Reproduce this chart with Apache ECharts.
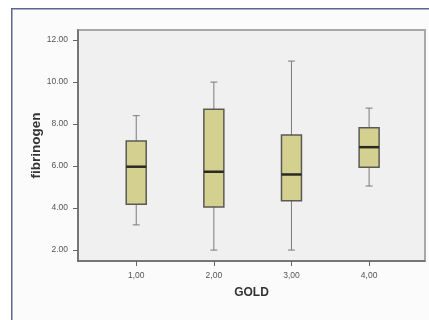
<!DOCTYPE html>
<html>
<head>
<meta charset="utf-8">
<script src="https://cdn.jsdelivr.net/npm/echarts@6/dist/echarts.min.js"></script>
<style>
  html, body { margin: 0; padding: 0; background: #fff; }
  #chart { width: 429px; height: 320px; }
</style>
</head>
<body>
<div id="chart"></div>
<script>
// GOLD groups and fibrinogen box values
var goldGroups = [1, 2, 3, 4];
var minVals    = [3.20, 2.00, 2.00, 5.05];
var q1Vals     = [4.18, 4.05, 4.35, 5.94];
var medianVals = [5.97, 5.73, 5.60, 6.90];
var q3Vals     = [7.20, 8.71, 7.48, 7.82];
var maxVals    = [8.40, 10.00, 11.00, 8.76];
var yTicks     = [2, 4, 6, 8, 10, 12];

var boxData = goldGroups.map(function (g, i) {
    return [g, minVals[i], q1Vals[i], medianVals[i], q3Vals[i], maxVals[i]];
});

var chart = echarts.init(document.getElementById('chart'));

// one box per group: whiskers with short caps, box, thick median
function renderBox(params, api) {
    var x = api.value(0);
    var lo = api.coord([x, api.value(1)]);
    var q1 = api.coord([x, api.value(2)]);
    var md = api.coord([x, api.value(3)]);
    var q3 = api.coord([x, api.value(4)]);
    var hi = api.coord([x, api.value(5)]);
    var cx = lo[0];
    var bw = 20, cap = 7;
    var whisker = { stroke: '#7a7a7a', lineWidth: 1 };
    return {
        type: 'group',
        children: [
            { type: 'line', shape: { x1: cx, y1: hi[1], x2: cx, y2: q3[1] }, style: whisker },
            { type: 'line', shape: { x1: cx, y1: q1[1], x2: cx, y2: lo[1] }, style: whisker },
            { type: 'line', shape: { x1: cx - cap / 2, y1: hi[1], x2: cx + cap / 2, y2: hi[1] }, style: whisker },
            { type: 'line', shape: { x1: cx - cap / 2, y1: lo[1], x2: cx + cap / 2, y2: lo[1] }, style: whisker },
            { type: 'rect', shape: { x: cx - bw / 2, y: q3[1], width: bw, height: q1[1] - q3[1] },
              style: { fill: '#d4d08f', stroke: '#5a5a55', lineWidth: 1.5 } },
            { type: 'line', shape: { x1: cx - bw / 2, y1: md[1], x2: cx + bw / 2, y2: md[1] },
              style: { stroke: '#2a2a22', lineWidth: 2.5 } }
        ]
    };
}

var option = {
    backgroundColor: '#fff',
    animation: false,
    graphic: [{
        type: 'rect',
        left: 11, top: 8,
        shape: { width: 500, height: 400 },
        style: { fill: '#fbfbfb', stroke: '#5d6690', lineWidth: 1.5 },
        z: -10
    }],
    grid: {
        left: 78, top: 30, right: 4, bottom: 59,
        show: true,
        backgroundColor: '#f0f0f0',
        borderColor: '#a8a8a8',
        borderWidth: 2
    },
    xAxis: {
        type: 'value',
        min: 0.25, max: 4.72,
        name: 'GOLD',
        nameLocation: 'middle',
        nameGap: 26,
        nameMoveOverlap: false,
        nameTextStyle: { fontFamily: 'Liberation Sans', fontWeight: 'bold', fontSize: 12, color: '#333' },
        splitLine: { show: false },
        axisLine: { show: true, onZero: false, lineStyle: { color: '#666', width: 1.5 } },
        axisTick: { show: true, length: 5, customValues: goldGroups, lineStyle: { color: '#666' } },
        axisLabel: {
            customValues: goldGroups,
            fontFamily: 'Liberation Sans', fontSize: 8.5, color: '#555', margin: 10,
            formatter: function (v) { return v.toFixed(2).replace('.', ','); }
        }
    },
    yAxis: {
        type: 'value',
        min: 1.48, max: 12.48,
        name: 'fibrinogen',
        nameLocation: 'middle',
        nameGap: 35,
        nameMoveOverlap: false,
        nameTextStyle: { fontFamily: 'Liberation Sans', fontWeight: 'bold', fontSize: 13.5, color: '#333' },
        splitLine: { show: false },
        axisLine: { show: true, onZero: false, lineStyle: { color: '#666', width: 1.5 } },
        axisTick: { show: true, length: 5, customValues: yTicks, lineStyle: { color: '#666' } },
        axisLabel: {
            customValues: yTicks,
            fontFamily: 'Liberation Sans', fontSize: 8.5, color: '#555', margin: 10,
            formatter: function (v) { return v.toFixed(2); }
        }
    },
    series: [{
        type: 'custom',
        renderItem: renderBox,
        encode: { x: 0, y: [1, 2, 3, 4, 5] },
        data: boxData
    }]
};

chart.setOption(option);
</script>
</body>
</html>
